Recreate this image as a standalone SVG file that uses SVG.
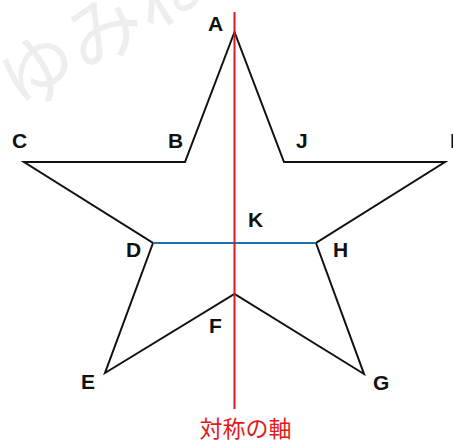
<svg xmlns="http://www.w3.org/2000/svg" width="453" height="443" viewBox="0 0 453 443">
  <style>
    .lbl { font-family: "Liberation Sans", Arial, sans-serif; font-weight: bold; font-size: 21px; fill: #111; }
    .star { fill: none; stroke: #111; stroke-width: 2; stroke-linejoin: miter; }
    .axis { stroke: #e3191c; stroke-width: 2; }
    .seg { stroke: #1f6db5; stroke-width: 2; }
    .axislbl { font-family: "Noto Sans CJK JP", "Noto Sans", sans-serif; font-size: 23px; fill: #e3191c; }
    .wm { font-family: "Noto Sans CJK JP", sans-serif; font-size: 76px; fill: #eeeeee; }
  </style>
  <rect width="453" height="443" fill="#ffffff"/>
  <g id="watermark">
    <text class="wm" x="21" y="114" transform="rotate(-32 21 114)">ゆみね</text>
  </g>
  <g id="star">
    <polygon class="star" points="234.5,32 185,162 24,162 153,243 105,373 234.5,294 364,374 316,243 445,162 284,162"/>
  </g>
  <g id="connectors">
    <line id="DH" class="seg" x1="153" y1="243" x2="316" y2="243"/>
    <line id="axis" class="axis" x1="234.5" y1="12" x2="234.5" y2="409"/>
  </g>
  <g id="labels">
    <g id="lA"><text class="lbl" x="208" y="31">A</text></g>
    <g id="lB"><text class="lbl" x="168" y="148">B</text></g>
    <g id="lC"><text class="lbl" x="12" y="148">C</text></g>
    <g id="lD"><text class="lbl" x="126" y="257">D</text></g>
    <g id="lE"><text class="lbl" x="81" y="389">E</text></g>
    <g id="lF"><text class="lbl" x="209" y="333">F</text></g>
    <g id="lG"><text class="lbl" x="373" y="390">G</text></g>
    <g id="lH"><text class="lbl" x="333" y="257">H</text></g>
    <g id="lI"><text class="lbl" x="450" y="148">I</text></g>
    <g id="lJ"><text class="lbl" x="296" y="148">J</text></g>
    <g id="lK"><text class="lbl" x="248" y="227">K</text></g>
  </g>
  <g id="axis-label">
    <text class="axislbl" x="245.5" y="437" text-anchor="middle">対称の軸</text>
  </g>
</svg>
